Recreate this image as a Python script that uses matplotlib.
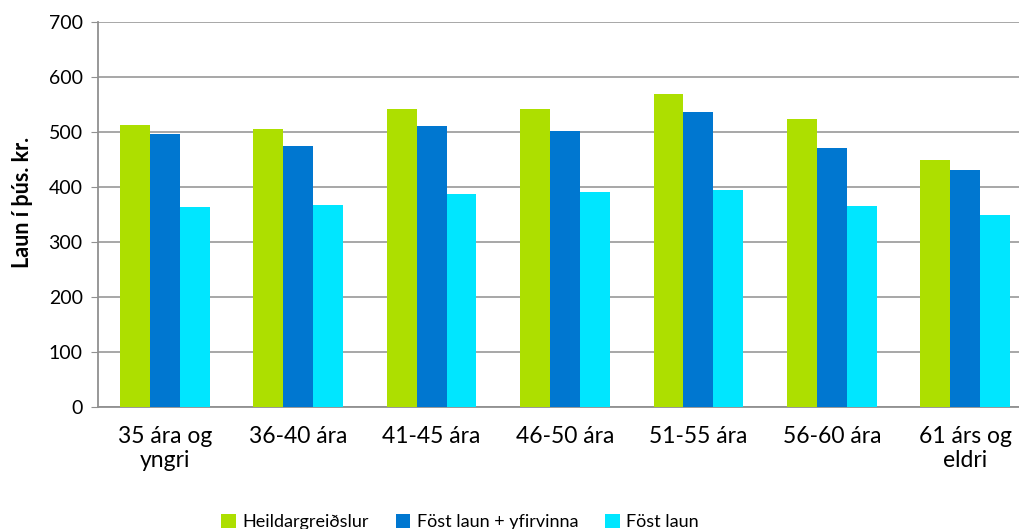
import matplotlib
matplotlib.use("Agg")
import matplotlib.pyplot as plt
import numpy as np

plt.rcParams['font.family'] = ['Lato', 'DejaVu Sans']

categories = ["35 ára og\nyngri", "36-40 ára", "41-45 ára", "46-50 ára", "51-55 ára", "56-60 ára", "61 árs og\neldri"]
heildar = [512, 505, 541, 541, 569, 523, 449]
fost_yfir = [497, 474, 511, 502, 536, 471, 431]
fost = [363, 367, 387, 391, 395, 366, 349]
series_names = ["Heildargreiðslur", "Föst laun + yfirvinna", "Föst laun"]
colors = ["#addf00", "#0077d0", "#00e6ff"]

fig = plt.figure(figsize=(10.19, 5.29), dpi=100)
ax = fig.add_axes([98/1019, 1-407/529, (1032-98)/1019, (407-22)/529])

x = np.arange(len(categories))
w = 0.224
for i, (vals, c, n) in enumerate(zip([heildar, fost_yfir, fost], colors, series_names)):
    ax.bar(x + (i-1)*w, vals, width=w, color=c, label=n, zorder=3)

ax.set_xlim(-0.5, len(categories)-0.5)
ax.set_ylim(0, 700)
ax.set_yticks(range(0, 701, 100))
ax.yaxis.grid(True, color="#a0a0a0", linewidth=1.3, zorder=0)
ax.set_axisbelow(True)
for s in ["top", "right"]:
    ax.spines[s].set_visible(False)
for s in ["left", "bottom"]:
    ax.spines[s].set_color("#909090")
    ax.spines[s].set_linewidth(1.3)
ax.set_xticks(x)
ax.set_xticklabels(categories, fontsize=16.5, linespacing=1.15)
ax.tick_params(axis='x', length=0, pad=14)
ax.tick_params(axis='y', length=5, color="#909090", labelsize=14, pad=6)
ax.set_ylabel("Laun í þús. kr.", fontsize=15.5, fontweight="bold")
ax.yaxis.set_label_coords(-0.0696, 0.532)

fig.legend(loc="center", bbox_to_anchor=(460/1019, 1-522/529), ncol=3, frameon=False,
           fontsize=13, handlelength=0.8, handleheight=0.8, handletextpad=0.35,
           columnspacing=1.5, borderpad=0)

fig.savefig("out.png", dpi=100)
